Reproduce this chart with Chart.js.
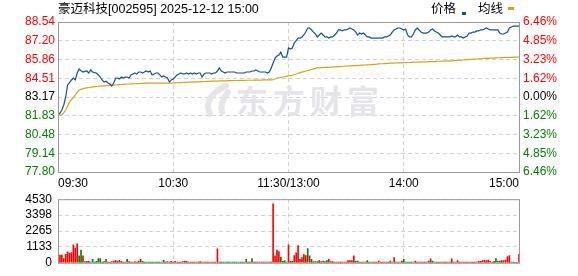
<!DOCTYPE html>
<html>
<head>
<meta charset="utf-8">
<script src="https://cdn.jsdelivr.net/npm/chart.js@4.4.1/dist/chart.umd.min.js"></script>
<style>
  html, body { margin: 0; padding: 0; background: #fff; }
  #wrap { position: relative; width: 578px; height: 276px; }
  #priceBox { position: absolute; left: 0; top: 0; }
  #volBox { position: absolute; left: 0; top: 186px; }
</style>
</head>
<body>
<div id="wrap">
  <div id="priceBox"><canvas id="priceChart" width="578" height="192"></canvas></div>
  <div id="volBox"><canvas id="volChart" width="578" height="90"></canvas></div>
</div>
<script>
// ---- data (one value per trading minute, 09:30 .. 11:30 / 13:01 .. 15:00) ----
const prevClose = 83.17;
const priceTicks = [77.80, 79.14, 80.48, 81.83, 83.17, 84.51, 85.86, 87.20, 88.54];
const pctLabels = ["6.46%", "4.85%", "3.23%", "1.62%", "0.00%", "1.62%", "3.23%", "4.85%", "6.46%"];
const timeTicks = [0, 60, 120, 180, 240];
const timeLabels = ["09:30", "10:30", "11:30/13:00", "14:00", "15:00"];
const volTicks = [0, 1133, 2265, 3398, 4530];

const prices = [
  81.90, 82.00, 82.24, 82.60, 83.17, 84.03, 84.20, 84.39, 84.53, 84.39,
  84.89, 85.17, 85.05, 84.96, 85.00, 85.03, 84.89, 85.10, 84.96, 84.92,
  84.89, 84.75, 84.60, 84.39, 84.24, 84.30, 84.17, 84.10, 83.96, 84.17,
  84.53, 84.53, 84.46, 84.60, 84.53, 84.60, 84.60, 84.53, 84.75, 84.82,
  84.89, 84.82, 84.96, 84.96, 84.89, 84.96, 85.03, 84.96, 85.03, 84.75,
  84.82, 84.89, 84.89, 84.75, 84.60, 84.68, 84.60, 84.53, 84.24, 84.39,
  84.46, 84.60, 84.75, 84.82, 84.89, 84.82, 84.82, 84.89, 84.82, 84.89,
  84.82, 84.89, 84.82, 84.89, 84.89, 84.60, 84.82, 84.89, 84.89, 84.89,
  84.82, 84.89, 84.89, 85.03, 85.25, 85.03, 84.96, 84.89, 84.96, 84.96,
  84.96, 84.96, 84.96, 84.89, 84.89, 84.89, 84.89, 84.89, 84.96, 84.96,
  84.96, 85.03, 85.03, 85.10, 85.03, 84.96, 84.96, 84.96, 84.96, 84.89,
  84.96, 85.25, 85.60, 85.96, 86.10, 86.18, 86.39, 86.03, 86.03, 86.03,
  86.68, 86.60, 86.68, 87.04, 87.20, 87.39, 87.39, 87.47, 87.61, 87.82,
  88.11, 88.11, 87.97, 87.82, 87.68, 87.47, 87.61, 87.75, 87.61, 87.47,
  87.47, 87.39, 87.47, 87.47, 87.61, 87.75, 87.97, 87.97, 87.90, 87.97,
  87.97, 88.04, 88.11, 88.04, 87.97, 87.82, 87.61, 87.75, 87.68, 87.75,
  87.61, 87.47, 87.47, 87.39, 87.39, 87.39, 87.39, 87.39, 87.39, 87.39,
  87.47, 87.47, 87.54, 87.61, 87.82, 87.97, 88.04, 88.11, 88.11, 88.04,
  87.97, 88.04, 87.61, 87.47, 87.47, 87.68, 87.97, 88.11, 87.97, 87.82,
  87.75, 87.75, 87.75, 87.82, 87.97, 88.04, 87.90, 87.82, 87.75, 87.61,
  87.47, 87.47, 87.47, 87.47, 87.47, 87.54, 87.47, 87.47, 87.61, 87.47,
  87.47, 87.39, 87.47, 87.54, 87.75, 87.75, 87.82, 87.82, 87.90, 87.90,
  87.97, 87.97, 88.04, 88.11, 88.04, 87.97, 87.97, 87.97, 87.97, 87.97,
  87.75, 87.68, 87.68, 87.75, 87.82, 88.11, 88.18, 88.25, 88.25, 88.25,
  88.25
];

const avgPrices = [
  81.88, 81.88, 81.88, 82.05, 82.24, 82.52, 82.81, 82.98, 83.15, 83.31,
  83.50, 83.67, 83.72, 83.77, 83.81, 83.83, 83.85, 83.87, 83.89, 83.90,
  83.92, 83.94, 83.95, 83.96, 83.97, 83.98, 83.99, 84.00, 84.01, 84.02,
  84.03, 84.04, 84.05, 84.06, 84.07, 84.08, 84.10, 84.10, 84.11, 84.11,
  84.12, 84.13, 84.13, 84.14, 84.15, 84.15, 84.16, 84.17, 84.17, 84.17,
  84.17, 84.17, 84.17, 84.17, 84.17, 84.17, 84.17, 84.17, 84.17, 84.17,
  84.18, 84.18, 84.19, 84.20, 84.20, 84.21, 84.22, 84.22, 84.23, 84.24,
  84.24, 84.25, 84.25, 84.26, 84.26, 84.27, 84.28, 84.28, 84.29, 84.29,
  84.30, 84.30, 84.31, 84.31, 84.32, 84.32, 84.33, 84.33, 84.33, 84.34,
  84.34, 84.34, 84.35, 84.35, 84.35, 84.36, 84.36, 84.36, 84.37, 84.37,
  84.37, 84.37, 84.38, 84.38, 84.38, 84.38, 84.38, 84.39, 84.39, 84.39,
  84.39, 84.40, 84.42, 84.46, 84.53, 84.55, 84.57, 84.60, 84.62, 84.65,
  84.68, 84.70, 84.73, 84.78, 84.82, 84.87, 84.91, 84.95, 84.99, 85.03,
  85.07, 85.10, 85.14, 85.18, 85.22, 85.25, 85.26, 85.27, 85.28, 85.29,
  85.29, 85.30, 85.31, 85.31, 85.32, 85.33, 85.34, 85.35, 85.36, 85.37,
  85.38, 85.39, 85.40, 85.40, 85.41, 85.42, 85.43, 85.44, 85.45, 85.45,
  85.46, 85.47, 85.48, 85.49, 85.50, 85.51, 85.53, 85.54, 85.55, 85.55,
  85.56, 85.57, 85.58, 85.59, 85.59, 85.60, 85.61, 85.61, 85.62, 85.62,
  85.63, 85.63, 85.64, 85.64, 85.65, 85.66, 85.66, 85.67, 85.67, 85.68,
  85.68, 85.69, 85.69, 85.70, 85.70, 85.71, 85.71, 85.72, 85.73, 85.73,
  85.74, 85.74, 85.75, 85.75, 85.75, 85.76, 85.77, 85.78, 85.79, 85.80,
  85.81, 85.82, 85.83, 85.84, 85.85, 85.86, 85.87, 85.88, 85.89, 85.90,
  85.91, 85.92, 85.93, 85.93, 85.94, 85.95, 85.96, 85.96, 85.97, 85.98,
  85.98, 85.99, 85.99, 86.00, 86.00, 86.01, 86.01, 86.02, 86.02, 86.03,
  86.03
];

const volumes = [
  1470, 550, 550, 300, 600, 780, 700, 730, 1280, 1050,
  1350, 500, 900, 500, 80, 100, 100, 60, 250, 60,
  100, 300, 300, 60, 80, 250, 60, 60, 80, 120,
  150, 120, 180, 100, 60, 60, 250, 80, 60, 60,
  80, 60, 120, 250, 100, 60, 60, 60, 60, 60,
  60, 60, 60, 60, 60, 180, 60, 80, 60, 100,
  60, 100, 60, 60, 60, 80, 120, 100, 60, 60,
  60, 60, 60, 60, 80, 60, 60, 60, 60, 60,
  60, 60, 60, 1000, 60, 60, 60, 60, 60, 60,
  60, 60, 60, 60, 60, 60, 60, 60, 245, 60,
  60, 306, 60, 60, 60, 60, 60, 60, 60, 60,
  60, 60, 4200, 500, 900, 800, 400, 100, 150, 60,
  1280, 100, 100, 510, 714, 1224, 245, 367, 612, 510,
  1020, 490, 245, 80, 80, 80, 160, 80, 120, 80,
  160, 245, 80, 80, 60, 60, 60, 60, 60, 60,
  60, 160, 160, 160, 490, 120, 120, 60, 60, 60,
  60, 160, 60, 60, 60, 60, 60, 120, 60, 60,
  60, 60, 60, 120, 60, 367, 60, 60, 60, 120,
  245, 60, 60, 60, 60, 60, 120, 60, 60, 60,
  60, 60, 60, 120, 285, 120, 60, 60, 60, 60,
  60, 60, 60, 60, 60, 285, 60, 60, 160, 60,
  60, 60, 60, 60, 60, 60, 60, 60, 60, 100,
  100, 160, 200, 160, 200, 100, 60, 100, 306, 120,
  120, 160, 160, 200, 450, 510, 60, 60, 20, 40,
  612
];

// 1 = up tick (red), -1 = down tick (green)
const volSide = [
  -1, 1, 1, 1, 1, 1, 1, 1, 1, 1,
  1, -1, -1, 1, -1, 1, 1, -1, -1, -1,
  -1, -1, -1, 1, 1, -1, 1, 1, 1, 1,
  1, 1, 1, -1, 1, 1, -1, 1, 1, 1,
  1, 1, 1, 1, -1, -1, -1, -1, -1, -1,
  -1, -1, -1, -1, -1, -1, 1, -1, 1, 1,
  1, 1, 1, 1, -1, 1, 1, 1, 1, 1,
  1, 1, 1, -1, 1, 1, 1, 1, 1, 1,
  1, 1, 1, 1, -1, -1, -1, -1, -1, -1,
  -1, -1, -1, -1, -1, -1, -1, -1, -1, 1,
  1, -1, 1, 1, 1, 1, 1, 1, 1, 1,
  1, 1, 1, 1, 1, 1, -1, -1, -1, 1,
  1, 1, 1, 1, 1, 1, -1, 1, 1, 1,
  -1, 1, -1, -1, -1, -1, 1, -1, 1, -1,
  -1, 1, 1, 1, 1, 1, 1, 1, 1, 1,
  1, 1, 1, 1, 1, -1, -1, -1, 1, 1,
  1, -1, -1, -1, 1, 1, 1, 1, 1, 1,
  1, 1, 1, -1, 1, 1, 1, 1, 1, 1,
  -1, -1, -1, -1, -1, -1, 1, 1, 1, 1,
  1, 1, 1, -1, 1, -1, -1, -1, -1, -1,
  1, 1, 1, 1, 1, 1, 1, 1, 1, 1,
  1, 1, 1, 1, 1, 1, 1, 1, 1, 1,
  1, 1, 1, 1, 1, 1, -1, 1, -1, -1,
  -1, 1, 1, 1, 1, 1, -1, 1, 1, 1,
  1
];

const RED = "#ff0000";
const GREEN = "#008000";
const BLUE = "#0d50a0";
const GOLD = "#e0a010";
const GRID = "#d2d2d2";
const FRAME = "#9a9a9a";

Chart.defaults.font.family = "'Liberation Sans', 'Noto Sans CJK SC', sans-serif";
Chart.defaults.font.size = 12;
Chart.defaults.color = "#000";

const levelColor = (v) => (v > prevClose + 0.001 ? RED : v < prevClose - 0.001 ? GREEN : "#000");

// frame around the plot area (all four sides)
const framePlugin = {
  id: "frame",
  afterDraw(chart) {
    const { ctx, chartArea: a } = chart;
    ctx.save();
    ctx.strokeStyle = FRAME;
    ctx.lineWidth = 1;
    ctx.strokeRect(a.left + 0.5, a.top + 0.5, a.right - a.left, a.bottom - a.top);
    ctx.restore();
  },
};

// watermark, title and legend of the price panel
const pricePanel = {
  id: "pricePanel",
  beforeDatasetsDraw(chart) {
    const { ctx } = chart;
    ctx.save();
    ctx.fillStyle = "#e4e4ea";
    ctx.strokeStyle = "#e4e4ea";
    ctx.lineWidth = 6;
    ctx.lineCap = "round";
    ctx.beginPath();
    ctx.moveTo(226, 86);
    ctx.bezierCurveTo(212, 92, 204, 102, 210, 114);
    ctx.stroke();
    ctx.beginPath();
    ctx.moveTo(228, 92);
    ctx.bezierCurveTo(222, 100, 220, 106, 222, 112);
    ctx.stroke();
    ctx.font = "bold 32px 'Noto Sans CJK SC'";
    ctx.letterSpacing = "5px";
    ctx.textBaseline = "middle";
    ctx.textAlign = "left";
    ctx.fillText("东方财富", 236, 101);
    ctx.restore();
  },
  afterDraw(chart) {
    const { ctx } = chart;
    ctx.save();
    ctx.font = "12.5px 'Liberation Sans', 'Noto Sans CJK SC'";
    ctx.fillStyle = "#000";
    ctx.textBaseline = "middle";
    ctx.textAlign = "left";
    ctx.fillText("豪迈科技[002595] 2025-12-12 15:00", 58, 10);
    ctx.fillText("价格", 431, 10);
    ctx.fillText("均线", 478, 10);
    ctx.fillStyle = BLUE;
    ctx.fillRect(462, 12, 4, 3);
    ctx.fillStyle = GOLD;
    ctx.fillRect(508, 7, 6, 3);
    ctx.restore();
  },
};

new Chart(document.getElementById("priceChart"), {
  type: "line",
  data: {
    datasets: [
      {
        label: "价格",
        data: prices.map((v, i) => ({ x: i, y: v })),
        borderColor: BLUE,
        borderWidth: 1.2,
        pointRadius: 0,
        tension: 0,
      },
      {
        label: "均线",
        data: avgPrices.map((v, i) => ({ x: i, y: v })),
        borderColor: GOLD,
        borderWidth: 1.2,
        pointRadius: 0,
        tension: 0,
      },
    ],
  },
  options: {
    responsive: false,
    animation: false,
    layout: { padding: { top: 22, left: 0, right: 0, bottom: 0 } },
    plugins: { legend: { display: false }, tooltip: { enabled: false } },
    scales: {
      x: {
        type: "linear",
        min: 0,
        max: 240,
        afterBuildTicks: (a) => { a.ticks = timeTicks.map((v) => ({ value: v })); },
        afterFit: (a) => { a.height = 20; },
        ticks: {
          align: "inner",
          maxRotation: 0,
          autoSkip: false,
          padding: 4,
          callback: (v, i) => timeLabels[i],
        },
        grid: { color: GRID, drawTicks: false },
        border: { display: false, dash: [4, 3] },
      },
      y: {
        type: "linear",
        position: "left",
        min: priceTicks[0],
        max: priceTicks[priceTicks.length - 1],
        afterBuildTicks: (a) => { a.ticks = priceTicks.map((v) => ({ value: v })); },
        afterFit: (a) => { a.width = 58; },
        ticks: {
          autoSkip: false,
          padding: 3,
          callback: (v) => v.toFixed(2),
          color: (c) => levelColor(c.tick.value),
        },
        grid: { color: GRID, drawTicks: false },
        border: { display: false, dash: [4, 3] },
      },
      y2: {
        type: "linear",
        position: "right",
        min: priceTicks[0],
        max: priceTicks[priceTicks.length - 1],
        afterBuildTicks: (a) => { a.ticks = priceTicks.map((v) => ({ value: v })); },
        afterFit: (a) => { a.width = 59; },
        ticks: {
          autoSkip: false,
          padding: 4,
          callback: (v, i) => pctLabels[i],
          color: (c) => levelColor(c.tick.value),
        },
        grid: { display: false, drawTicks: false },
        border: { display: false },
      },
    },
  },
  plugins: [pricePanel, framePlugin],
});

new Chart(document.getElementById("volChart"), {
  type: "bar",
  data: {
    datasets: [
      {
        label: "成交量",
        data: volumes.map((v, i) => ({ x: i, y: v })),
        backgroundColor: volSide.map((s) => (s > 0 ? RED : GREEN)),
        barThickness: 1,
        borderWidth: 0,
      },
    ],
  },
  options: {
    responsive: false,
    animation: false,
    layout: { padding: { top: 10, left: 0, right: 59, bottom: 0 } },
    plugins: { legend: { display: false }, tooltip: { enabled: false } },
    scales: {
      x: {
        type: "linear",
        offset: false,
        min: 0,
        max: 240,
        afterBuildTicks: (a) => { a.ticks = timeTicks.map((v) => ({ value: v })); },
        afterFit: (a) => { a.height = 6; },
        ticks: { display: false },
        grid: { color: GRID, drawTicks: false, offset: false },
        border: { display: false, dash: [4, 3] },
      },
      y: {
        type: "linear",
        min: 0,
        max: volTicks[volTicks.length - 1],
        afterBuildTicks: (a) => { a.ticks = volTicks.map((v) => ({ value: v })); },
        afterFit: (a) => { a.width = 58; },
        ticks: { autoSkip: false, padding: 6, color: "#000", callback: (v) => String(v) },
        grid: { color: GRID, drawTicks: false },
        border: { display: false, dash: [4, 3] },
      },
    },
  },
  plugins: [framePlugin],
});
</script>
</body>
</html>
